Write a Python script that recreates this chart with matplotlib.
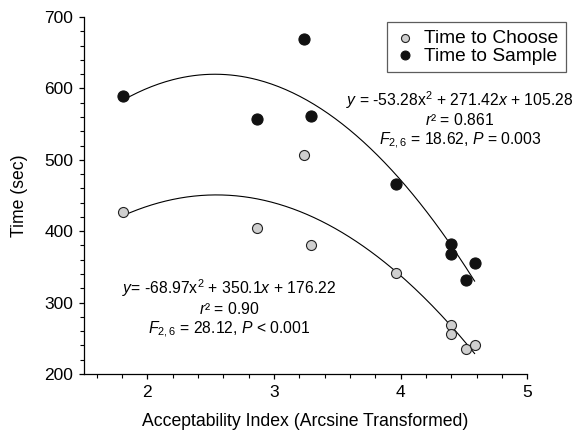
import numpy as np
import matplotlib
matplotlib.use("Agg")
import matplotlib.pyplot as plt
from matplotlib.ticker import MultipleLocator

plt.rcParams['font.family'] = ['Liberation Sans', 'DejaVu Sans']
plt.rcParams['mathtext.fontset'] = 'custom'
plt.rcParams['mathtext.rm'] = 'Liberation Sans'
plt.rcParams['mathtext.it'] = 'Liberation Sans:italic'

# Data
x_vals = [1.81, 2.865, 3.24, 3.29, 3.965, 4.40, 4.40, 4.513, 4.584]
time_choose = [427, 405, 507, 381, 342, 269, 256, 235, 241]
time_sample = [590, 557, 669, 562, 466, 382, 368, 331, 355]
series_names = ["Time to Choose", "Time to Sample"]
eq_sample = ["$y$ = -53.28x$^2$ + 271.42$x$ + 105.28", "$r$² = 0.861",
             "$F_{2,6}$ = 18.62, $P$ = 0.003"]
eq_choose = ["$y$= -68.97x$^2$ + 350.1$x$ + 176.22", "$r$² = 0.90",
             "$F_{2,6}$ = 28.12, $P$ < 0.001"]

W, H = 576, 434
fig = plt.figure(figsize=(W / 100, H / 100), dpi=100)
L, R, T, B = 84, 527.3, 17, 374
ax = fig.add_axes([L / W, 1 - B / H, (R - L) / W, (B - T) / H])

x = np.array(x_vals)
xs = np.linspace(x.min(), x.max(), 200)
for yv in (time_choose, time_sample):
    c = np.polyfit(x, np.array(yv), 2)
    ax.plot(xs, np.polyval(c, xs), color='black', lw=0.8, zorder=2)

ax.scatter(x, time_choose, s=52, facecolor='#cfcfcf', edgecolor='#222222',
           linewidth=0.8, zorder=3, label=series_names[0])
ax.scatter(x, time_sample, s=64, facecolor='#111111', edgecolor='#111111',
           linewidth=0.8, zorder=3, label=series_names[1])

ax.set_xlim(1.5, 5)
ax.set_ylim(200, 700)
ax.xaxis.set_major_locator(MultipleLocator(1))
ax.xaxis.set_minor_locator(MultipleLocator(0.2))
ax.yaxis.set_major_locator(MultipleLocator(100))
ax.yaxis.set_minor_locator(MultipleLocator(20))
ax.spines['top'].set_visible(False)
ax.spines['right'].set_visible(False)
for s in ('left', 'bottom'):
    ax.spines[s].set_linewidth(0.9)
ax.tick_params(which='major', direction='out', length=3.5, width=0.9, labelsize=12.5)
ax.tick_params(which='minor', direction='out', length=2.8, width=0.8)
ax.tick_params(axis='x', pad=4.2)
ax.tick_params(axis='y', pad=4.2)

ax.set_xlabel("Acceptability Index (Arcsine Transformed)", fontsize=12.7)
ax.set_ylabel("Time (sec)", fontsize=12.7)
ax.xaxis.set_label_coords(0.5, -(413 - B) / (B - T))
ax.yaxis.set_label_coords(-(L - 28) / (R - L), 0.5)

leg = ax.legend(loc='upper left', bbox_to_anchor=(387 / W, 1 - 22 / H),
                bbox_transform=fig.transFigure, fontsize=13.8,
                frameon=True, fancybox=False, edgecolor='#333333',
                handletextpad=0.45, borderpad=0.4, labelspacing=0.0,
                handlelength=1.1, markerscale=0.8, borderaxespad=0)
leg.get_frame().set_linewidth(0.9)

def px_to_data(px, py):
    inv = ax.transData.inverted()
    return inv.transform((px, H - py))

for t, (px, py) in zip(eq_sample, [(460, 100), (460, 120), (460, 141)]):
    dx, dy = px_to_data(px, py)
    ax.text(dx, dy, t, fontsize=11.3, ha='center', va='center')
for t, (px, py) in zip(eq_choose, [(229.5, 288.3), (229.5, 309.3), (229.5, 330)]):
    dx, dy = px_to_data(px, py)
    ax.text(dx, dy, t, fontsize=11.3, ha='center', va='center')

fig.savefig("out.png", dpi=100)
